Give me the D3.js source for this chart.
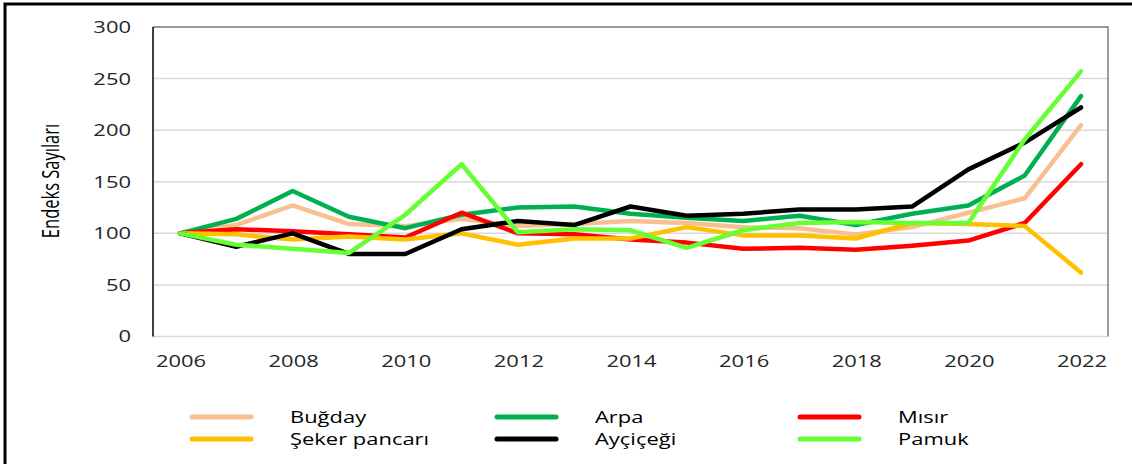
<!DOCTYPE html>
<html>
<head>
<meta charset="utf-8">
<script src="https://cdn.jsdelivr.net/npm/d3@7"></script>
<style>
  html, body { margin: 0; padding: 0; background: #fff; }
  svg { display: block; font-family: "Open Sans", sans-serif; }
</style>
</head>
<body>
<div id="chart"></div>
<script>
const years = [2006, 2007, 2008, 2009, 2010, 2011, 2012, 2013, 2014, 2015, 2016, 2017, 2018, 2019, 2020, 2021, 2022];
const xTickYears = [2006, 2008, 2010, 2012, 2014, 2016, 2018, 2020, 2022];
const yTicks = [0, 50, 100, 150, 200, 250, 300];

const seriesNames = ["Buğday", "Arpa", "Mısır", "Şeker pancarı", "Ayçiçeği", "Pamuk"];
const bugday = [100, 108, 127, 109, 107, 114, 107, 109, 112, 110, 106, 105, 99, 106, 120, 134, 205];
const arpa = [100, 114, 141, 116, 105, 118, 125, 126, 119, 115, 112, 117, 108, 119, 127, 156, 233];
const misir = [100, 104, 102, 99, 96, 120, 100, 99, 94, 91, 85, 86, 84, 88, 93, 110, 167];
const seker = [100, 99, 94, 97, 94, 100, 89, 95, 95, 106, 98, 98, 95, 110, 109, 107, 62];
const aycicegi = [100, 87, 100, 80, 80, 104, 112, 108, 126, 117, 119, 123, 123, 126, 162, 188, 222];
const pamuk = [100, 89, 85, 81, 118, 167, 101, 104, 103, 86, 103, 110, 111, 110, 110, 191, 257];

const COLORS = ["#F8C090", "#00B050", "#FF0000", "#FFC000", "#000000", "#66FF33"];
const WIDTH = 1132;
const HEIGHT = 464;
const STRETCH = 1.33; // the reference text is drawn wide

const plot = { left: 153, right: 1108, top: 27, bottom: 336.5 };

const series = [bugday, arpa, misir, seker, aycicegi, pamuk].map((values, i) => ({
  name: seriesNames[i],
  color: COLORS[i],
  points: values.map((v, j) => ({ year: years[j], value: v }))
}));

const svg = d3.select("#chart")
  .append("svg")
  .attr("width", WIDTH)
  .attr("height", HEIGHT);

// outer frame (top and left edges only are visible)
svg.append("path")
  .attr("d", `M5,${HEIGHT} L5,4 L${WIDTH},4`)
  .attr("fill", "none")
  .attr("stroke", "#000")
  .attr("stroke-width", 3);

const x = d3.scalePoint()
  .domain(years)
  .range([180, 1081]);

const y = d3.scaleLinear()
  .domain([0, 300])
  .range([plot.bottom, plot.top]);

// gridlines
svg.append("g")
  .selectAll("line")
  .data(yTicks)
  .join("line")
  .attr("x1", plot.left)
  .attr("x2", plot.right)
  .attr("y1", d => y(d))
  .attr("y2", d => y(d))
  .attr("stroke", "#d9d9d9")
  .attr("stroke-width", 1.5);

// plot area border, top and right
svg.append("path")
  .attr("d", `M${plot.left},${y(300)} L${plot.right},${y(300)} L${plot.right},${y(0)}`)
  .attr("fill", "none")
  .attr("stroke", "#7f7f7f")
  .attr("stroke-width", 1.5);

// y axis line
svg.append("line")
  .attr("x1", plot.left)
  .attr("x2", plot.left)
  .attr("y1", y(300))
  .attr("y2", y(0))
  .attr("stroke", "#000")
  .attr("stroke-width", 1.5);

// y tick labels
svg.append("g")
  .selectAll("text")
  .data(yTicks)
  .join("text")
  .attr("transform", d => `translate(131,${y(d)}) scale(${STRETCH},1)`)
  .attr("dy", "0.36em")
  .attr("text-anchor", "end")
  .style("font-size", "16.5px")
  .style("fill", "#262626")
  .text(d => d);

// x tick labels
svg.append("g")
  .selectAll("text")
  .data(xTickYears)
  .join("text")
  .attr("transform", d => `translate(${x(d) + 1},367) scale(${STRETCH},1)`)
  .attr("text-anchor", "middle")
  .style("font-size", "16.5px")
  .style("fill", "#262626")
  .text(d => d);

// y axis title
svg.append("text")
  .attr("transform", "translate(59,181) rotate(-90) scale(1,1.4)")
  .attr("text-anchor", "middle")
  .style("font-size", "16.5px")
  .style("fill", "#000")
  .text("Endeks Sayıları");

// the lines
const line = d3.line()
  .x(d => x(d.year))
  .y(d => y(d.value));

svg.append("g")
  .selectAll("path")
  .data(series)
  .join("path")
  .attr("d", d => line(d.points))
  .attr("fill", "none")
  .attr("stroke", d => d.color)
  .attr("stroke-width", 4.5)
  .attr("stroke-linejoin", "round")
  .attr("stroke-linecap", "round");

// legend, three columns by two rows
const legendCols = [192, 497, 800];
const legendRows = [417, 439];

const legend = svg.append("g")
  .selectAll("g")
  .data(series)
  .join("g")
  .attr("transform", (d, i) => `translate(${legendCols[i % 3]},${legendRows[Math.floor(i / 3)]})`);

legend.append("line")
  .attr("x1", 0)
  .attr("x2", 59)
  .attr("stroke", d => d.color)
  .attr("stroke-width", 5)
  .attr("stroke-linecap", "round");

legend.append("text")
  .attr("transform", `translate(98,5.5) scale(${STRETCH},1)`)
  .style("font-size", "16.5px")
  .style("fill", "#000")
  .text(d => d.name);
</script>
</body>
</html>
